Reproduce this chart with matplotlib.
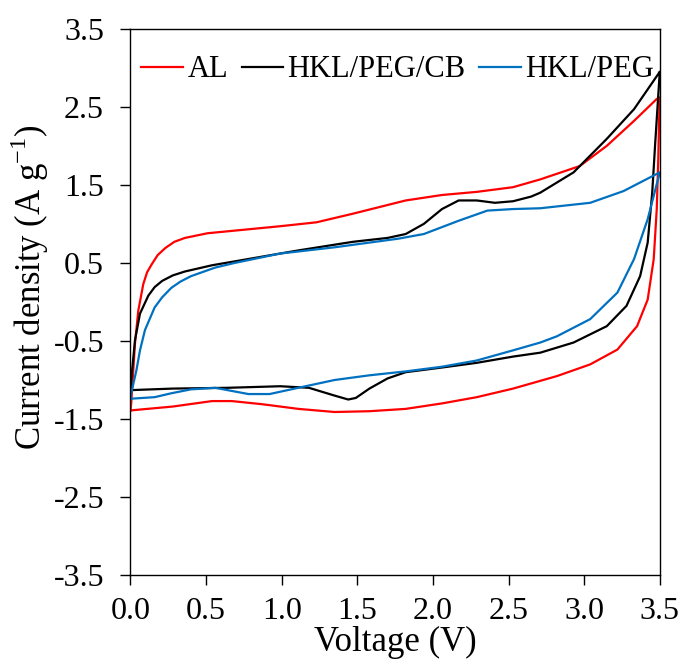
import matplotlib.pyplot as plt

plt.rcParams['font.family'] = ['Liberation Serif', 'DejaVu Serif']
plt.rcParams['mathtext.fontset'] = 'custom'
plt.rcParams['mathtext.rm'] = 'Liberation Serif'
plt.rcParams['axes.unicode_minus'] = False

# AL - forward (anodic) sweep, then reverse (cathodic) sweep
al_v_fwd = [0.0, 0.005, 0.012, 0.03, 0.052, 0.085, 0.11, 0.14, 0.18, 0.23, 0.29, 0.36, 0.51,
            0.67, 0.99, 1.23, 1.47, 1.82, 2.06, 2.29, 2.53, 2.71, 2.97, 3.15, 3.33, 3.48, 3.5]
al_i_fwd = [-1.39, -1.30, -1.08, -0.53, -0.11, 0.23, 0.38, 0.48, 0.60, 0.69, 0.77, 0.82, 0.88,
            0.91, 0.97, 1.02, 1.13, 1.30, 1.37, 1.41, 1.47, 1.57, 1.74, 2.00, 2.32, 2.60, 2.62]
al_v_rev = [3.5, 3.495, 3.49, 3.48, 3.46, 3.42, 3.35, 3.22, 3.04, 2.82, 2.53, 2.29, 2.06, 1.82,
            1.58, 1.35, 1.11, 0.87, 0.67, 0.54, 0.28, 0.0]
al_i_rev = [2.62, 2.30, 1.83, 1.19, 0.55, 0.03, -0.31, -0.61, -0.80, -0.95, -1.11, -1.22, -1.30,
            -1.37, -1.40, -1.41, -1.37, -1.31, -1.27, -1.27, -1.34, -1.39]

# HKL/PEG/CB
cb_v_fwd = [0.0, 0.005, 0.03, 0.063, 0.118, 0.16, 0.21, 0.28, 0.36, 0.54, 0.69, 1.11, 1.47, 1.70,
            1.82, 1.94, 2.06, 2.17, 2.29, 2.41, 2.53, 2.65, 2.71, 2.93, 3.15, 3.33, 3.49, 3.5]
cb_i_fwd = [-1.13, -1.00, -0.49, -0.15, 0.08, 0.19, 0.27, 0.34, 0.39, 0.47, 0.52, 0.66, 0.77,
            0.82, 0.87, 1.00, 1.19, 1.30, 1.30, 1.27, 1.29, 1.35, 1.40, 1.66, 2.09, 2.47, 2.92, 2.95]
cb_v_rev = [3.5, 3.47, 3.45, 3.42, 3.37, 3.28, 3.15, 2.93, 2.71, 2.53, 2.29, 2.06, 1.82, 1.70,
            1.58, 1.49, 1.44, 1.35, 1.18, 0.99, 0.64, 0.28, 0.0]
cb_i_rev = [2.95, 2.04, 1.40, 0.76, 0.33, -0.05, -0.31, -0.52, -0.65, -0.70, -0.78, -0.84, -0.90,
            -0.98, -1.11, -1.23, -1.25, -1.20, -1.10, -1.08, -1.10, -1.11, -1.13]

# HKL/PEG
pg_v_fwd = [0.0, 0.005, 0.04, 0.063, 0.096, 0.16, 0.21, 0.27, 0.33, 0.40, 0.56, 0.69, 0.99, 1.35,
            1.77, 1.94, 2.17, 2.36, 2.53, 2.71, 3.04, 3.26, 3.5]
pg_i_fwd = [-1.24, -1.17, -0.87, -0.62, -0.36, -0.07, 0.06, 0.18, 0.26, 0.33, 0.44, 0.50, 0.62,
            0.70, 0.81, 0.87, 1.04, 1.17, 1.19, 1.20, 1.27, 1.42, 1.66]
pg_v_rev = [3.5, 3.42, 3.33, 3.22, 3.04, 2.82, 2.71, 2.53, 2.29, 2.06, 1.82, 1.58, 1.35, 1.11,
            0.92, 0.78, 0.56, 0.40, 0.27, 0.16, 0.0]
pg_i_rev = [1.66, 1.06, 0.55, 0.12, -0.22, -0.44, -0.52, -0.62, -0.75, -0.83, -0.89, -0.94, -1.00,
            -1.10, -1.18, -1.18, -1.10, -1.12, -1.17, -1.22, -1.24]

fig = plt.figure(figsize=(6.83, 6.68), dpi=100)
ax = fig.add_axes([0.191, 0.139, 0.775, 0.818])

ax.plot(al_v_fwd + al_v_rev, al_i_fwd + al_i_rev, color='#FF0000', lw=1.6, label='AL')
ax.plot(cb_v_fwd + cb_v_rev, cb_i_fwd + cb_i_rev, color='black', lw=1.6, label='HKL/PEG/CB')
ax.plot(pg_v_fwd + pg_v_rev, pg_i_fwd + pg_i_rev, color='#0070C0', lw=1.6, label='HKL/PEG')

ax.set_xlim(0, 3.5)
ax.set_ylim(-3.5, 3.5)
ax.set_xticks([0.0, 0.5, 1.0, 1.5, 2.0, 2.5, 3.0, 3.5])
ax.set_yticks([-3.5, -2.5, -1.5, -0.5, 0.5, 1.5, 2.5, 3.5])
ax.xaxis.set_major_formatter('{x:.1f}')
ax.yaxis.set_major_formatter('{x:.1f}')
ax.tick_params(direction='out', length=7, width=1, labelsize=23)
ax.tick_params(axis='x', pad=9)
ax.tick_params(axis='y', pad=12)
for s in ax.spines.values():
    s.set_linewidth(1)

ax.set_xlabel('Voltage (V)', fontsize=25, labelpad=0)
ax.set_ylabel('Current density (A g$^{-1}$)', fontsize=25)
ax.yaxis.set_label_coords(-0.151, 0.528)

ax.legend(loc='upper center', bbox_to_anchor=(0.505, 0.985), ncol=3, frameon=False,
          fontsize=22, handlelength=1.35, handletextpad=0.15, columnspacing=0.45,
          borderaxespad=0.2)

plt.savefig('out.png', dpi=100)
